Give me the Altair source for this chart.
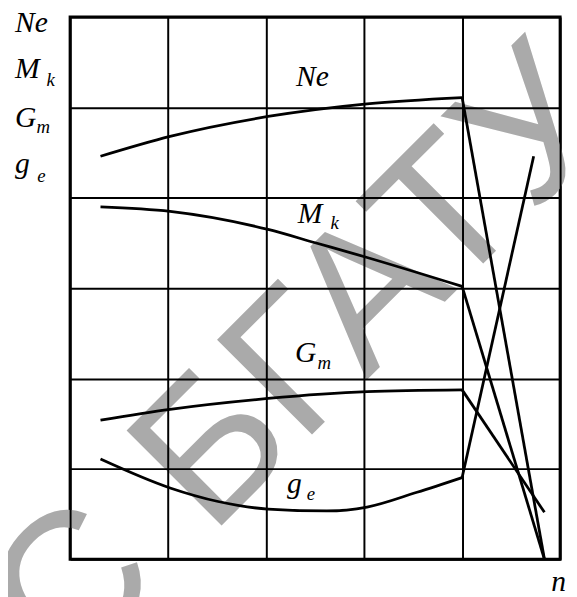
import altair as alt
import pandas as pd

# ---- curve data (x in grid columns 0..5, y in grid rows 0..6) ----
curves = ["Ne", "Mk", "Gm", "ge"]

ne_x = [0.31, 1.02, 2.02, 3.03, 4.0]
ne_y = [4.46, 4.68, 4.90, 5.04, 5.11]
ne_end = [4.84, 0.0]

mk_x = [0.31, 1.02, 2.02, 2.51, 3.03, 4.0]
mk_y = [3.90, 3.85, 3.65, 3.50, 3.34, 3.02]
mk_end = [4.84, 0.0]

gm_x = [0.31, 1.02, 2.02, 3.03, 4.0]
gm_y = [1.54, 1.66, 1.78, 1.855, 1.875]
gm_end = [4.84, 0.52]

ge_x = [0.31, 1.02, 1.51, 2.02, 2.62, 3.03, 3.54, 4.0]
ge_y = [1.11, 0.79, 0.64, 0.556, 0.535, 0.578, 0.742, 0.905]
ge_end = [4.73, 4.46]

# ---- labels ----
main_text = ["Ne", "M", "G", "g", "Ne", "M", "G", "g", "n"]
main_x = [-0.563, -0.563, -0.563, -0.563, 2.304, 2.324, 2.294, 2.213, 4.909]
main_y = [5.836, 5.324, 4.789, 4.276, 5.236, 3.720, 2.182, 0.731, -0.349]

sub_text = ["k", "m", "e", "k", "m", "e"]
sub_x = [-0.242, -0.342, -0.335, 2.656, 2.525, 2.414]
sub_y = [5.236, 4.713, 4.178, 3.655, 2.105, 0.655]

# ---- watermark ----
wm_text = ["С", "БГАТУ"]
wm_x = [-0.04, 1.429]
wm_y = [-1.34, 0.251]

series = {
    "Ne": (ne_x, ne_y, ne_end),
    "Mk": (mk_x, mk_y, mk_end),
    "Gm": (gm_x, gm_y, gm_end),
    "ge": (ge_x, ge_y, ge_end),
}

smooth_rows = []
straight_rows = []
for name in curves:
    xs, ys, end = series[name]
    for i, (a, b) in enumerate(zip(xs, ys)):
        smooth_rows.append({"curve": name, "x": a, "y": b, "o": i})
    straight_rows.append({"curve": name, "x": xs[-1], "y": ys[-1], "o": 0})
    straight_rows.append({"curve": name, "x": end[0], "y": end[1], "o": 1})

smooth_df = pd.DataFrame(smooth_rows)
straight_df = pd.DataFrame(straight_rows)
main_df = pd.DataFrame({"t": main_text, "x": main_x, "y": main_y})
sub_df = pd.DataFrame({"t": sub_text, "x": sub_x, "y": sub_y})
wm_df = pd.DataFrame({"t": wm_text, "x": wm_x, "y": wm_y})

xscale = alt.Scale(domain=[0, 5], nice=False, zero=False)
yscale = alt.Scale(domain=[0, 6], nice=False, zero=False)
xaxis = alt.Axis(values=[0, 1, 2, 3, 4, 5], grid=True, labels=False, ticks=False,
                 domain=False, title=None, gridColor="black", gridWidth=2,
                 gridOpacity=1, zindex=1)
yaxis = alt.Axis(values=[0, 1, 2, 3, 4, 5, 6], grid=True, labels=False, ticks=False,
                 domain=False, title=None, gridColor="black", gridWidth=2,
                 gridOpacity=1, zindex=1)

X = alt.X("x:Q", scale=xscale, axis=xaxis)
Y = alt.Y("y:Q", scale=yscale, axis=yaxis)

watermark = alt.Chart(wm_df).mark_text(
    font="Liberation Sans", fontSize=198, angle=315, align="left",
    baseline="alphabetic", color="#aaaaaa"
).encode(x=X, y=Y, text="t:N")

smooth = alt.Chart(smooth_df).mark_line(
    interpolate="monotone", color="black", strokeWidth=2.8
).encode(x=X, y=Y, detail="curve:N", order="o:Q")

straight = alt.Chart(straight_df).mark_line(
    color="black", strokeWidth=2.8
).encode(x=X, y=Y, detail="curve:N", order="o:Q")

main_lbl = alt.Chart(main_df).mark_text(
    font="Liberation Serif", fontStyle="italic", fontSize=30, align="left",
    baseline="alphabetic", color="black"
).encode(x=X, y=Y, text="t:N")

sub_lbl = alt.Chart(sub_df).mark_text(
    font="Liberation Serif", fontStyle="italic", fontSize=19, align="left",
    baseline="alphabetic", color="black"
).encode(x=X, y=Y, text="t:N")

chart = alt.layer(watermark, smooth, straight, main_lbl, sub_lbl).properties(
    width=497, height=550,
    padding={"left": 63, "top": 5, "right": 9, "bottom": 34},
    autosize="none",
    background="white",
).configure_view(stroke="black", strokeWidth=3)

chart.save("out.html", embed_options={"renderer": "svg", "actions": False})
